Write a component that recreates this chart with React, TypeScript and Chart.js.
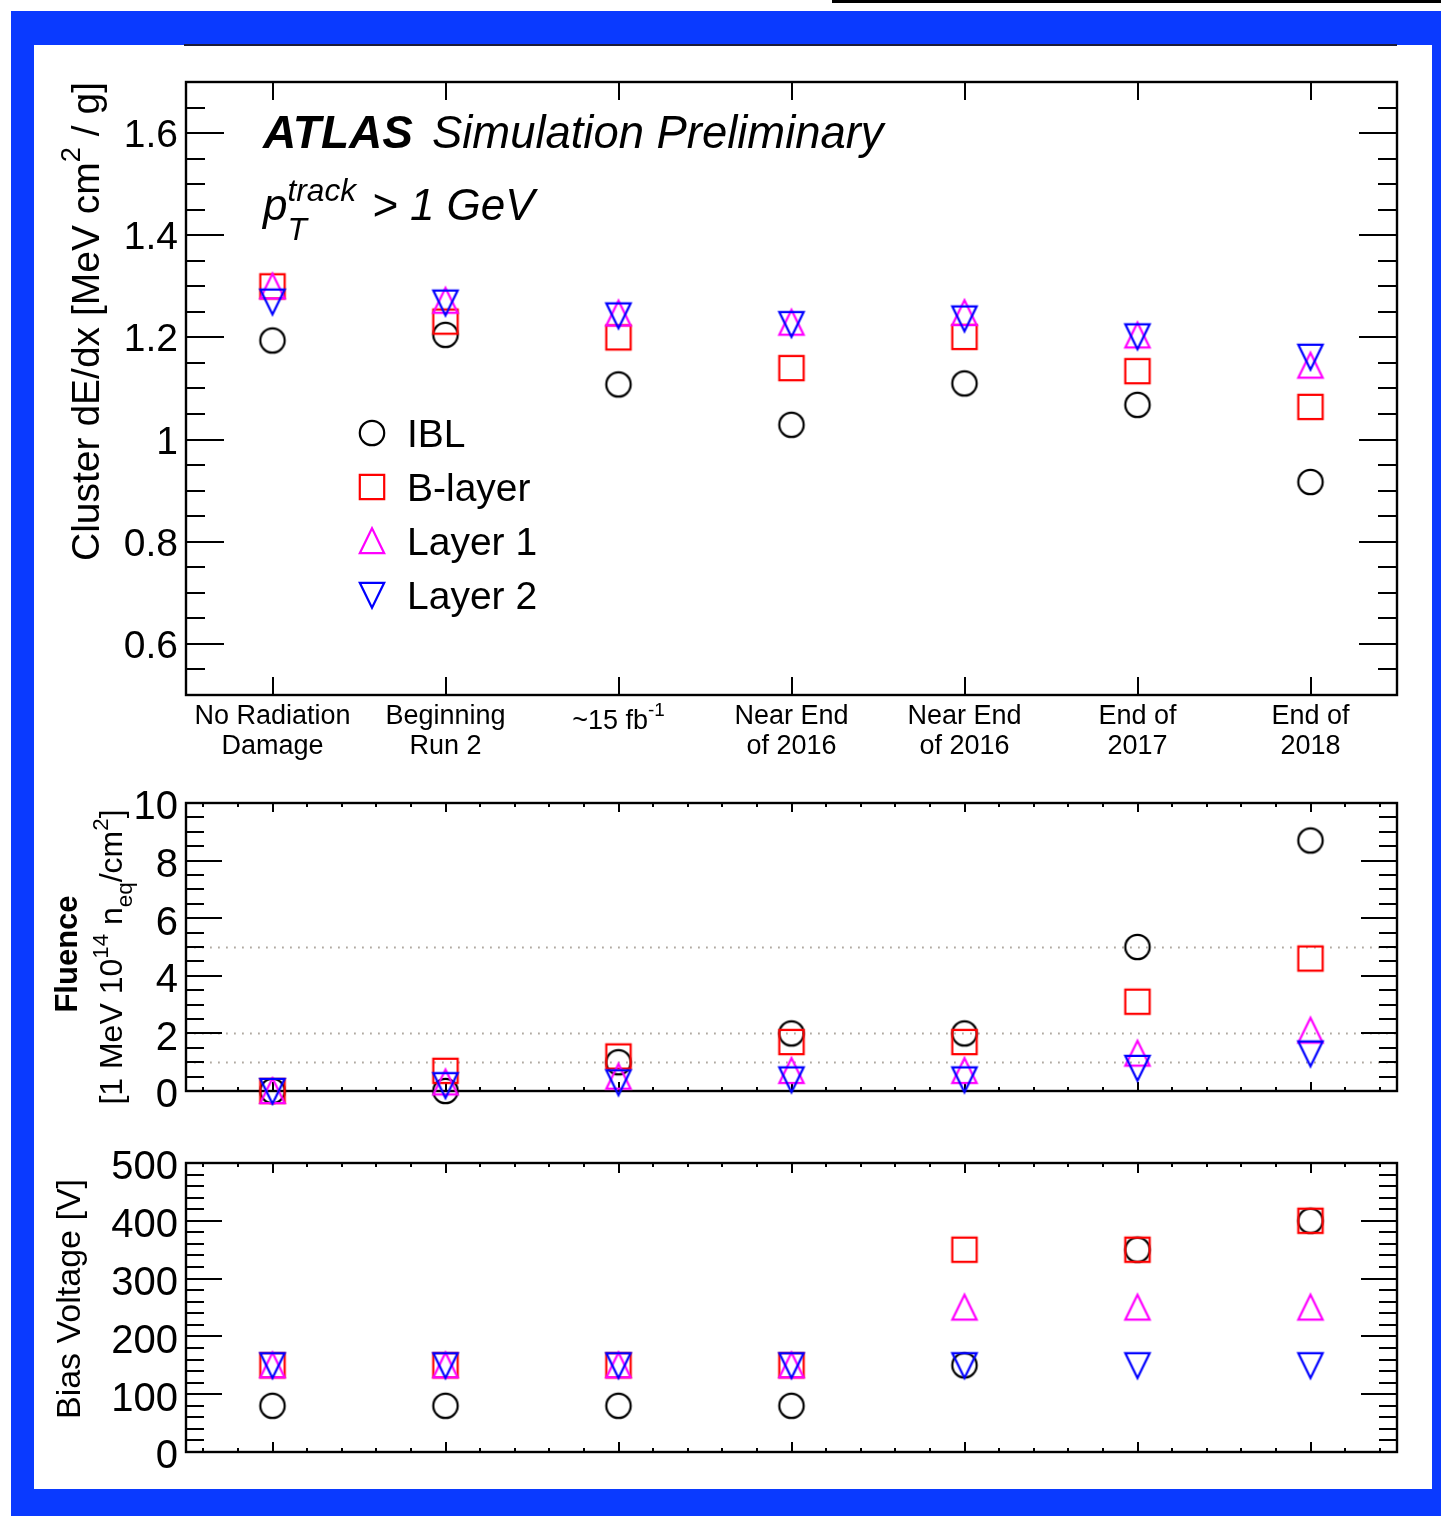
import React, { useEffect, useRef } from 'react';
import { Chart, registerables } from 'chart.js';

Chart.register(...registerables);

const W = 1441;
const H = 1516;
const FAMILY = '"Liberation Sans", Arial, Helvetica, sans-serif';

// ---------------- data ----------------
const categories = [
  'No Radiation|Damage',
  'Beginning|Run 2',
  '~15 fb^{-1}',
  'Near End|of 2016',
  'Near End|of 2016',
  'End of|2017',
  'End of|2018',
];
const layerNames = ['IBL', 'B-layer', 'Layer 1', 'Layer 2'];

const dedxIBL = [1.194, 1.205, 1.108, 1.029, 1.110, 1.068, 0.917];
const dedxBLayer = [1.300, 1.231, 1.200, 1.140, 1.201, 1.134, 1.064];
const dedxLayer1 = [1.300, 1.272, 1.247, 1.229, 1.248, 1.204, 1.145];
const dedxLayer2 = [1.270, 1.268, 1.243, 1.226, 1.237, 1.202, 1.162];

const fluenceIBL = [0, 0, 1.0, 2.0, 2.0, 5.0, 8.7];
const fluenceBLayer = [0, 0.7, 1.2, 1.7, 1.7, 3.1, 4.6];
const fluenceLayer1 = [0, 0.3, 0.5, 0.7, 0.7, 1.3, 2.1];
const fluenceLayer2 = [0, 0.2, 0.3, 0.4, 0.4, 0.8, 1.3];

const biasIBL = [80, 80, 80, 80, 150, 350, 400];
const biasBLayer = [150, 150, 150, 150, 350, 350, 400];
const biasLayer1 = [150, 150, 150, 150, 250, 250, 250];
const biasLayer2 = [150, 150, 150, 150, 150, 150, 150];

const dedxTickValues = [0.6, 0.8, 1.0, 1.2, 1.4, 1.6];
const dedxTickLabels = ['0.6', '0.8', '1', '1.2', '1.4', '1.6'];
const fluenceTickValues = [0, 2, 4, 6, 8, 10];
const biasTickValues = [0, 100, 200, 300, 400, 500];
const fluenceRefLines = [1, 2, 5];

// ---------------- text helpers ----------------
function fontStr(size: number, weight = 'normal', style = 'normal') {
  return `${style} ${weight} ${size}px ${FAMILY}`;
}

type Seg = { text: string; kind: 'n' | 'sup' | 'sub' };
function parseRich(s: string): Seg[] {
  const out: Seg[] = [];
  let buf = '';
  let i = 0;
  while (i < s.length) {
    const c = s[i];
    if ((c === '^' || c === '_') && s[i + 1] === '{') {
      if (buf) {
        out.push({ text: buf, kind: 'n' });
        buf = '';
      }
      const end = s.indexOf('}', i + 2);
      out.push({ text: s.slice(i + 2, end), kind: c === '^' ? 'sup' : 'sub' });
      i = end + 1;
    } else {
      buf += c;
      i++;
    }
  }
  if (buf) out.push({ text: buf, kind: 'n' });
  return out;
}

interface RichOpts {
  size: number;
  weight?: string;
  style?: string;
  align?: 'left' | 'center' | 'right';
  scale?: number;
  raise?: number;
  drop?: number;
  color?: string;
}

function drawRich(ctx: CanvasRenderingContext2D, s: string, x: number, y: number, o: RichOpts) {
  const size = o.size;
  const sc = o.scale ?? 0.7;
  const raise = o.raise ?? 0.45;
  const drop = o.drop ?? 0.3;
  const base = fontStr(size, o.weight, o.style);
  const small = fontStr(size * sc, o.weight, o.style);
  const segs = parseRich(s);
  const items: { t: string; x: number; dy: number; f: string }[] = [];
  let cx = 0;
  for (let i = 0; i < segs.length; i++) {
    const sg = segs[i];
    if (sg.kind === 'n') {
      ctx.font = base;
      const w = ctx.measureText(sg.text).width;
      items.push({ t: sg.text, x: cx, dy: 0, f: base });
      cx += w;
    } else {
      ctx.font = small;
      const w1 = ctx.measureText(sg.text).width;
      items.push({ t: sg.text, x: cx, dy: sg.kind === 'sup' ? -raise * size : drop * size, f: small });
      let w = w1;
      const nx = segs[i + 1];
      if (nx && nx.kind !== 'n' && nx.kind !== sg.kind) {
        const w2 = ctx.measureText(nx.text).width;
        items.push({ t: nx.text, x: cx, dy: nx.kind === 'sup' ? -raise * size : drop * size, f: small });
        w = Math.max(w1, w2);
        i++;
      }
      cx += w;
    }
  }
  const x0 = o.align === 'right' ? x - cx : o.align === 'center' ? x - cx / 2 : x;
  ctx.textAlign = 'left';
  ctx.textBaseline = 'alphabetic';
  ctx.fillStyle = o.color || '#000';
  for (const it of items) {
    ctx.font = it.f;
    ctx.fillText(it.t, x0 + it.x, y + it.dy);
  }
  return cx;
}

function drawRotated(ctx: CanvasRenderingContext2D, s: string, bx: number, by: number, o: RichOpts) {
  ctx.save();
  ctx.translate(bx, by);
  ctx.rotate(-Math.PI / 2);
  drawRich(ctx, s, 0, 0, o);
  ctx.restore();
}

// ---------------- markers ----------------
type MarkerKind = 'circle' | 'square' | 'tri' | 'itri';
function makeMarker(kind: MarkerKind, color: string): HTMLCanvasElement {
  const S = 34;
  const c = document.createElement('canvas');
  c.width = S;
  c.height = S;
  const g = c.getContext('2d')!;
  g.strokeStyle = color;
  g.lineWidth = 2.2;
  g.lineJoin = 'miter';
  const m = S / 2;
  const h = 12.2;
  g.beginPath();
  if (kind === 'circle') {
    g.arc(m, m, h, 0, Math.PI * 2);
  } else if (kind === 'square') {
    g.rect(m - h, m - h, 2 * h, 2 * h);
  } else if (kind === 'tri') {
    g.moveTo(m, m - h - 0.5);
    g.lineTo(m + h, m + h);
    g.lineTo(m - h, m + h);
    g.closePath();
  } else {
    g.moveTo(m, m + h + 0.5);
    g.lineTo(m + h, m - h);
    g.lineTo(m - h, m - h);
    g.closePath();
  }
  g.stroke();
  return c;
}

// ---------------- axes ----------------
interface AxisSpec {
  id: string;
  yMin: number;
  yMax: number;
  yStep: number;
  yMajorEvery: number;
  yMajorLen: number;
  yMinorLen: number;
  xStep: number;
  xMajorEvery: number;
  xMajorLen: number;
  xMinorLen: number;
  labelSize: number;
  labelX: number;
  labelDy: number;
  yLabels: { v: number; t: string }[];
  refLines?: number[];
  after?: (chart: any) => void;
  before?: (chart: any) => void;
}

function drawAxes(chart: any, s: AxisSpec) {
  const ctx: CanvasRenderingContext2D = chart.ctx;
  const a = chart.chartArea;
  const xs = chart.scales.x;
  const ys = chart.scales.y;
  ctx.save();
  if (s.refLines) {
    ctx.save();
    ctx.strokeStyle = '#b0a9a1';
    ctx.lineWidth = 1.8;
    ctx.setLineDash([1.8, 6.2]);
    ctx.beginPath();
    for (const v of s.refLines) {
      const py = Math.round(ys.getPixelForValue(v)) + 0.5;
      ctx.moveTo(a.left, py);
      ctx.lineTo(a.right, py);
    }
    ctx.stroke();
    ctx.restore();
  }
  ctx.strokeStyle = '#000';
  ctx.lineWidth = 2;
  ctx.beginPath();
  const k0 = Math.ceil(s.yMin / s.yStep - 1e-6);
  const k1 = Math.floor(s.yMax / s.yStep + 1e-6);
  for (let k = k0; k <= k1; k++) {
    const v = k * s.yStep;
    const py = Math.round(ys.getPixelForValue(v));
    const len = k % s.yMajorEvery === 0 ? s.yMajorLen : s.yMinorLen;
    ctx.moveTo(a.left, py);
    ctx.lineTo(a.left + len, py);
    ctx.moveTo(a.right, py);
    ctx.lineTo(a.right - len, py);
  }
  const j0 = Math.ceil(xs.min / s.xStep - 1e-6);
  const j1 = Math.floor(xs.max / s.xStep + 1e-6);
  for (let j = j0; j <= j1; j++) {
    const v = j * s.xStep;
    const px = Math.round(xs.getPixelForValue(v));
    const major = ((j % s.xMajorEvery) + s.xMajorEvery) % s.xMajorEvery === 0;
    const len = major ? s.xMajorLen : s.xMinorLen;
    if (len <= 0) continue;
    ctx.moveTo(px, a.bottom);
    ctx.lineTo(px, a.bottom - len);
    ctx.moveTo(px, a.top);
    ctx.lineTo(px, a.top + len);
  }
  ctx.stroke();
  ctx.lineWidth = 2.4;
  ctx.strokeRect(a.left, a.top, a.right - a.left, a.bottom - a.top);
  for (const t of s.yLabels) {
    const py = ys.getPixelForValue(t.v);
    drawRich(ctx, t.t, s.labelX, py + 0.358 * s.labelSize + s.labelDy, { size: s.labelSize, align: 'right' });
  }
  ctx.restore();
}

function framePlugin(s: AxisSpec) {
  return {
    id: 'rootFrame_' + s.id,
    beforeDatasetsDraw(chart: any) {
      drawAxes(chart, s);
      if (s.before) s.before(chart);
    },
    afterDatasetsDraw(chart: any) {
      if (s.after) s.after(chart);
    },
  };
}

function series(label: string, values: number[], marker: HTMLCanvasElement, order: number) {
  return {
    label,
    data: values.map((v, i) => ({ x: i, y: v })),
    pointStyle: marker,
    pointRadius: 12,
    pointHoverRadius: 12,
    showLine: false,
    clip: false as any,
    order,
  };
}

function makeConfig(datasets: any[], top: number, bottom: number, yMin: number, yMax: number, spec: AxisSpec) {
  return {
    type: 'scatter' as const,
    data: { datasets },
    options: {
      responsive: false,
      animation: false as const,
      devicePixelRatio: 1,
      events: [] as any[],
      layout: { padding: { left: 186, right: W - 1397, top, bottom: H - bottom }, autoPadding: false },
      scales: {
        x: { type: 'linear' as const, min: -0.5, max: 6.5, display: false },
        y: { type: 'linear' as const, min: yMin, max: yMax, display: false },
      },
      plugins: { legend: { display: false }, tooltip: { enabled: false } },
    },
    plugins: [framePlugin(spec)],
  };
}

export default function App() {
  const c1 = useRef<HTMLCanvasElement>(null);
  const c2 = useRef<HTMLCanvasElement>(null);
  const c3 = useRef<HTMLCanvasElement>(null);

  useEffect(() => {
    document.body.style.margin = '0';
    const mk = [
      makeMarker('circle', '#000000'),
      makeMarker('square', '#ff0000'),
      makeMarker('tri', '#ff00ff'),
      makeMarker('itri', '#0000ff'),
    ];
    const mkSets = (vals: number[][]) => vals.map((v, i) => series(layerNames[i], v, mk[i], 3 - i));

    const spec1: AxisSpec = {
      id: 'dedx',
      yMin: 0.5, yMax: 1.7, yStep: 0.05, yMajorEvery: 4, yMajorLen: 38, yMinorLen: 19,
      xStep: 1, xMajorEvery: 1, xMajorLen: 18, xMinorLen: 0,
      labelSize: 39, labelX: 178, labelDy: 0,
      yLabels: dedxTickValues.map((v, i) => ({ v, t: dedxTickLabels[i] })),
      before: (chart: any) => {
        const ctx: CanvasRenderingContext2D = chart.ctx;
        const xs = chart.scales.x;
        ctx.save();
        categories.forEach((c, i) => {
          const px = xs.getPixelForValue(i);
          const lines = c.split('|');
          if (lines.length === 2) {
            drawRich(ctx, lines[0], px, 724, { size: 27, align: 'center' });
            drawRich(ctx, lines[1], px, 754, { size: 27, align: 'center' });
          } else {
            drawRich(ctx, lines[0], px, 729, { size: 27, align: 'center', raise: 0.5 });
          }
        });
        drawRotated(ctx, 'Cluster dE/dx [MeV cm^{2} / g]', 99, 82, { size: 39, align: 'right', raise: 0.48 });
        ctx.restore();
      },
      after: (chart: any) => {
        const ctx: CanvasRenderingContext2D = chart.ctx;
        ctx.save();
        drawRich(ctx, 'ATLAS', 263, 148, { size: 46, weight: 'bold', style: 'italic' });
        drawRich(ctx, 'Simulation Preliminary', 432, 148, { size: 45.4, style: 'italic' });
        drawRich(ctx, 'p_{T}^{track}', 263, 220, { size: 44, style: 'italic', scale: 0.72, raise: 0.43, drop: 0.45 });
        drawRich(ctx, '> 1 GeV', 372, 220, { size: 44, style: 'italic' });
        layerNames.forEach((n, i) => {
          const y = 433 + 54 * i;
          ctx.drawImage(mk[i], 372 - mk[i].width / 2, y - mk[i].height / 2);
          drawRich(ctx, n, 407, y + 0.358 * 39, { size: 39 });
        });
        ctx.restore();
      },
    };

    const spec2: AxisSpec = {
      id: 'fluence',
      yMin: 0, yMax: 10, yStep: 0.5, yMajorEvery: 4, yMajorLen: 36, yMinorLen: 18,
      xStep: 0.2, xMajorEvery: 5, xMajorLen: 9, xMinorLen: 4,
      labelSize: 40, labelX: 178, labelDy: 2,
      yLabels: fluenceTickValues.map((v) => ({ v, t: String(v) })),
      refLines: fluenceRefLines,
      before: (chart: any) => {
        const ctx: CanvasRenderingContext2D = chart.ctx;
        ctx.save();
        drawRotated(ctx, 'Fluence', 77, 954, { size: 31, weight: 'bold', align: 'center' });
        drawRotated(ctx, '[1 MeV 10^{14} n_{eq}/cm^{2}]', 122, 957, { size: 32, align: 'center' });
        ctx.restore();
      },
    };

    const spec3: AxisSpec = {
      id: 'bias',
      yMin: 0, yMax: 500, yStep: 20, yMajorEvery: 5, yMajorLen: 36, yMinorLen: 18,
      xStep: 0.2, xMajorEvery: 5, xMajorLen: 10, xMinorLen: 4,
      labelSize: 40, labelX: 178, labelDy: 2,
      yLabels: biasTickValues.map((v) => ({ v, t: String(v) })),
      before: (chart: any) => {
        const ctx: CanvasRenderingContext2D = chart.ctx;
        ctx.save();
        drawRotated(ctx, 'Bias Voltage [V]', 80, 1299, { size: 34, align: 'center' });
        ctx.restore();
      },
    };

    const charts = [
      new Chart(c1.current!, makeConfig(mkSets([dedxIBL, dedxBLayer, dedxLayer1, dedxLayer2]), 82, 695, 0.5, 1.7, spec1) as any),
      new Chart(c2.current!, makeConfig(mkSets([fluenceIBL, fluenceBLayer, fluenceLayer1, fluenceLayer2]), 803, 1091, 0, 10, spec2) as any),
      new Chart(c3.current!, makeConfig(mkSets([biasIBL, biasBLayer, biasLayer1, biasLayer2]), 1163, 1452, 0, 500, spec3) as any),
    ];
    return () => charts.forEach((c) => c.destroy());
  }, []);

  const abs = (s: React.CSSProperties): React.CSSProperties => ({ position: 'absolute', ...s });
  return (
    <div style={abs({ left: 0, top: 0, width: W, height: H, background: '#ffffff', overflow: 'hidden' })}>
      <div style={abs({ left: 832, top: 0, width: W - 832, height: 3, background: '#000' })} />
      <div style={abs({ left: 11, top: 11, width: W - 11, height: H - 11, background: '#0a3aff' })} />
      <div style={abs({ left: 34, top: 45, width: 1432 - 34, height: 1489 - 45, background: '#ffffff' })} />
      <div style={abs({ left: 184, top: 44, width: 1397 - 184, height: 2, background: '#1c1c3a' })} />
      <canvas ref={c1} width={W} height={H} style={abs({ left: 0, top: 0, width: W, height: H })} />
      <canvas ref={c2} width={W} height={H} style={abs({ left: 0, top: 0, width: W, height: H })} />
      <canvas ref={c3} width={W} height={H} style={abs({ left: 0, top: 0, width: W, height: H })} />
    </div>
  );
}
